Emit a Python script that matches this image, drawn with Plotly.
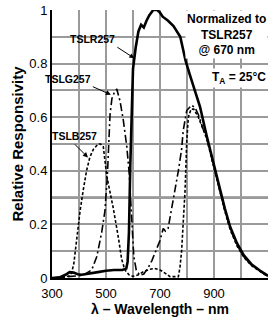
import plotly.graph_objects as go

# ---- data ----
red_nm = [300, 330, 350, 365, 380, 395, 410, 440, 470, 500, 530, 560, 575, 580, 585, 590, 595, 600,
          610, 620, 630, 640, 650, 660, 675, 690, 700, 710, 730, 750, 775, 795, 810, 830, 848, 873,
          900, 922, 940, 960, 985, 1010, 1040, 1070, 1100]
red_val = [0.0, 0.003, 0.012, 0.022, 0.02, 0.014, 0.012, 0.016, 0.022, 0.027, 0.03, 0.03, 0.035, 0.06, 0.17, 0.42, 0.66, 0.78,
           0.86, 0.92, 0.945, 0.935, 0.96, 0.98, 1.0, 1.0, 0.99, 0.975, 0.96, 0.94, 0.9, 0.81, 0.76, 0.70, 0.64, 0.53,
           0.42, 0.33, 0.26, 0.19, 0.13, 0.085, 0.05, 0.028, 0.008]

green_nm = [300, 350, 380, 415, 447, 466, 484, 496, 505, 510, 515, 522, 530, 540, 552, 564, 577, 586,
            592, 597, 603, 612, 625, 640, 657, 670, 681, 700, 712, 720, 730, 740, 750, 762, 768, 780,
            786, 799, 810, 817, 830, 842, 860, 873, 900, 922, 940, 960, 985, 1010, 1040, 1070, 1100]
green_val = [0.0, 0.004, 0.008, 0.01, 0.03, 0.08, 0.17, 0.25, 0.38, 0.5, 0.61, 0.67, 0.69, 0.705, 0.66, 0.59, 0.49, 0.39,
             0.28, 0.17, 0.08, 0.03, 0.01, 0.015, 0.04, 0.065, 0.09, 0.14, 0.185, 0.175, 0.185, 0.24, 0.3, 0.36, 0.40, 0.48,
             0.55, 0.625, 0.64, 0.645, 0.635, 0.61, 0.555, 0.525, 0.415, 0.325, 0.255, 0.185, 0.125, 0.08, 0.047, 0.026, 0.006]

blue_nm = [300, 340, 365, 373, 381, 391, 404, 416, 428, 440, 453, 471, 480, 490, 496, 503, 515, 527,
           546, 558, 570, 585, 600, 620, 638, 660, 680, 700, 712, 725, 737, 768, 774, 780, 786, 793,
           799, 805, 815, 825, 842, 860, 873, 900, 922, 940, 960, 985, 1010, 1040, 1070, 1100]
blue_val = [0.0, 0.002, 0.008, 0.02, 0.055, 0.15, 0.25, 0.33, 0.40, 0.45, 0.48, 0.50, 0.50, 0.49, 0.44, 0.38, 0.32, 0.26,
            0.15, 0.07, 0.03, 0.012, 0.006, 0.012, 0.023, 0.032, 0.036, 0.03, 0.023, 0.012, 0.005, 0.005, 0.04, 0.1, 0.22, 0.33,
            0.51, 0.60, 0.63, 0.63, 0.60, 0.555, 0.52, 0.41, 0.32, 0.25, 0.18, 0.12, 0.078, 0.045, 0.025, 0.005]

x_tick_vals = [300, 500, 700, 900]
x_tick_text = ["300", "500", "700", "900"]
y_tick_vals = [0, 0.2, 0.4, 0.6, 0.8, 1.0]
y_tick_text = ["0", "0.2", "0.4", "0.6", "0.8", "1"]

FONT = "Arial, Liberation Sans, sans-serif"
GRID = "#9a9a9a"

fig = go.Figure()
fig.add_trace(go.Scatter(x=blue_nm, y=blue_val, mode="lines", name="TSLB257",
                         line=dict(color="black", width=1.6, dash="3px,2px")))
fig.add_trace(go.Scatter(x=green_nm, y=green_val, mode="lines", name="TSLG257",
                         line=dict(color="black", width=1.6, dash="8px,3px,2px,3px")))
fig.add_trace(go.Scatter(x=red_nm, y=red_val, mode="lines", name="TSLR257",
                         line=dict(color="black", width=2.6)))

# darker 0.3 gridline as in the reference
fig.add_shape(type="line", xref="x", yref="y", x0=300, x1=1100, y0=0.3, y1=0.3,
              line=dict(color="#555555", width=2), layer="below")

ann_font = dict(family=FONT, size=10.5, color="black")
fig.add_annotation(x=605, y=0.82, ax=-17, ay=-11, text="<b>TSLR257</b>", showarrow=True,
                   arrowhead=2, arrowsize=1, arrowwidth=1, arrowcolor="black",
                   font=ann_font, xanchor="right", yanchor="bottom", standoff=0)
fig.add_annotation(x=518, y=0.684, ax=-18, ay=-8, text="<b>TSLG257</b>", showarrow=True,
                   arrowhead=2, arrowsize=1, arrowwidth=1, arrowcolor="black",
                   font=ann_font, xanchor="right", yanchor="bottom", standoff=0)
fig.add_annotation(x=433, y=0.45, ax=-13, ay=-13, text="<b>TSLB257</b>", showarrow=True,
                   arrowhead=2, arrowsize=1, arrowwidth=1, arrowcolor="black",
                   font=ann_font, xanchor="center", yanchor="bottom", standoff=0)

fig.add_annotation(x=1.0, y=1.0, xref="paper", yref="paper", xanchor="right", yanchor="top",
                   text="<b>Normalized to<br>TSLR257<br>@ 670 nm</b>", showarrow=False,
                   align="center", bgcolor="white", borderpad=1,
                   font=dict(family=FONT, size=12, color="black"))
fig.add_annotation(x=1.0, y=0.745, xref="paper", yref="paper", xanchor="right", yanchor="middle",
                   text="<b>T<sub>A</sub> = 25°C</b>", showarrow=False, bgcolor="white", borderpad=1,
                   font=dict(family=FONT, size=12, color="black"))

fig.update_layout(
    width=271, height=325,
    margin=dict(l=52, r=3, t=10, b=47, autoexpand=False),
    paper_bgcolor="white", plot_bgcolor="white",
    showlegend=False,
    font=dict(family=FONT, size=12, color="black"),
    xaxis=dict(range=[300, 1100], tickvals=x_tick_vals, ticktext=x_tick_text,
               showgrid=True, gridcolor=GRID, gridwidth=1.5,
               minor=dict(dtick=100, tick0=300, showgrid=True, gridcolor=GRID, gridwidth=1.5),
               showline=True, linecolor="black", linewidth=2, mirror=False,
               ticks="", ticklabelstandoff=2, tickfont=dict(family=FONT, size=13, color="black"),
               title=dict(text="<b>λ – Wavelength – nm</b>", standoff=4,
                          font=dict(family=FONT, size=14, color="black")),
               zeroline=False, fixedrange=True, automargin=False),
    yaxis=dict(range=[0, 1.0], tickvals=y_tick_vals, ticktext=y_tick_text,
               showgrid=True, gridcolor=GRID, gridwidth=1.5,
               minor=dict(dtick=0.1, tick0=0, showgrid=True, gridcolor=GRID, gridwidth=1.5),
               showline=True, linecolor="black", linewidth=2,
               ticks="", tickfont=dict(family=FONT, size=13, color="black"),
               title=dict(text="<b>Relative Responsivity</b>", standoff=2,
                          font=dict(family=FONT, size=15, color="black")),
               zeroline=False, fixedrange=True, automargin=False),
)
fig.update_xaxes(tickprefix="<b>", ticksuffix="</b>")
fig.update_yaxes(tickprefix="<b>", ticksuffix="</b>")

fig.write_html("out.html", config={"displayModeBar": False},
               post_script="document.body.style.margin='0';document.body.style.padding='0';")
